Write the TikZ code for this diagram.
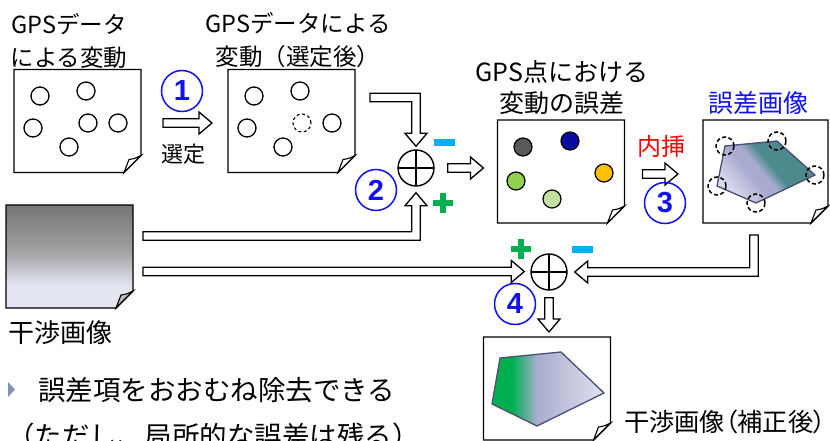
\documentclass[tikz,border=0pt]{standalone}
\usepackage{fontspec}
\setmainfont{Noto Sans CJK JP}
\newfontfamily\jpp[RawFeature=+palt]{Noto Sans CJK JP}
\newfontfamily\numfont{Liberation Sans}
\usetikzlibrary{calc}

\definecolor{cblue}{HTML}{1010F0}
\definecolor{mcyan}{HTML}{00B0F0}
\definecolor{pgreen}{HTML}{00B050}
\definecolor{dgray}{HTML}{595959}
\definecolor{dblue}{HTML}{0A0AA0}
\definecolor{lgreen}{HTML}{92D050}
\definecolor{orng}{HTML}{FFC000}
\definecolor{pgreenb}{HTML}{C4E0A0}
\definecolor{pent}{HTML}{4A4E70}
\definecolor{igA}{HTML}{767676}
\definecolor{igB}{HTML}{A0A0A2}
\definecolor{igC}{HTML}{E3E5F0}
\definecolor{erA}{HTML}{DCDCEE}
\definecolor{erB}{HTML}{A8ABCF}
\definecolor{erC}{HTML}{4C8A8E}
\definecolor{coA}{HTML}{00B050}
\definecolor{coB}{HTML}{A9ADCE}
\definecolor{coC}{HTML}{E0E1EE}
\definecolor{bulletc}{HTML}{8294B4}

\pgfdeclareverticalshading{igram}{100bp}{color(0bp)=(igC); color(36bp)=(igC); color(53bp)=(igB); color(75bp)=(igA); color(100bp)=(igA)}
\pgfdeclarehorizontalshading{corrsh}{100bp}{color(0bp)=(coA); color(34bp)=(coA); color(45bp)=(coB); color(75bp)=(coC); color(100bp)=(coC)}
\pgfdeclarehorizontalshading{errsh}{100bp}{color(0bp)=(erA); color(25bp)=(erA); color(42bp)=(erB); color(48bp)=(erB); color(55bp)=(erC); color(100bp)=(erC)}

\def\ah{4.3pt}
\def\aH{11pt}
\def\aL{13pt}

\tikzset{
  pagenode/.style={minimum width=127pt, minimum height=103pt, inner sep=0pt, outer sep=0pt},
  pageline/.style={draw=black, line width=1.4pt, line join=miter},
  harrow/.style={draw=black, fill=white, line width=1.3pt, line join=miter},
  oplus/.style={circle, draw=black, line width=1.4pt, minimum size=36pt, inner sep=0pt,
    path picture={\draw[line width=1.2pt] (path picture bounding box.north) -- (path picture bounding box.south)
      (path picture bounding box.west) -- (path picture bounding box.east);}},
  numc/.style={circle, draw=cblue, line width=1.5pt, minimum size=41pt, inner sep=0pt, text=cblue,
    font=\numfont\bfseries\fontsize{29}{29}\selectfont},
  spot/.style={draw=black, line width=1.3pt},
  dot/.style={draw=black, line width=1.2pt},
  vtx/.style={draw=black, line width=1.5pt, dash pattern=on 4pt off 2.5pt},
  titleA/.style={align=center, font=\fontsize{23.5}{33}\selectfont},
  titleB/.style={align=center, font=\fontsize{25}{31}\selectfont},
}

\newcommand\pagebox[3]{%
  \path[#2] (#1.north west) -- (#1.north east) -- ([yshift=17pt]#1.south east) -- ([xshift=-17pt]#1.south east) -- (#1.south west) -- cycle;
  \draw[pageline] (#1.north west) -- (#1.north east) -- ([yshift=17pt]#1.south east) -- ([xshift=-17pt]#1.south east) -- (#1.south west) -- cycle;
  \draw[pageline, line width=1.1pt, fill=#3] ([xshift=-17pt]#1.south east) .. controls ([xshift=-15pt,yshift=7pt]#1.south east) .. ([xshift=-12pt,yshift=13pt]#1.south east) .. controls ([xshift=-6pt,yshift=14pt]#1.south east) .. ([yshift=17pt]#1.south east) -- cycle;
}
\newcommand\arrR[2]{\draw[harrow] let \p1=(#1), \p2=(#2) in
  ({\x1},{\y1+\ah}) -- ({\x2-\aL},{\y1+\ah}) -- ({\x2-\aL},{\y1+\aH}) -- ({\x2},{\y1}) -- ({\x2-\aL},{\y1-\aH}) -- ({\x2-\aL},{\y1-\ah}) -- ({\x1},{\y1-\ah}) -- cycle;}
\newcommand\arrD[2]{\draw[harrow] let \p1=(#1), \p2=(#2) in
  ({\x1-\ah},{\y1}) -- ({\x1-\ah},{\y2+\aL}) -- ({\x1-\aH},{\y2+\aL}) -- ({\x1},{\y2}) -- ({\x1+\aH},{\y2+\aL}) -- ({\x1+\ah},{\y2+\aL}) -- ({\x1+\ah},{\y1}) -- cycle;}
\newcommand\arrRD[2]{\draw[harrow] let \p1=(#1), \p2=(#2) in
  ({\x1},{\y1+\ah}) -- ({\x2+\ah},{\y1+\ah}) -- ({\x2+\ah},{\y2+\aL}) -- ({\x2+\aH},{\y2+\aL}) -- ({\x2},{\y2}) -- ({\x2-\aH},{\y2+\aL}) -- ({\x2-\ah},{\y2+\aL}) -- ({\x2-\ah},{\y1-\ah}) -- ({\x1},{\y1-\ah}) -- cycle;}
\newcommand\arrRU[2]{\draw[harrow] let \p1=(#1), \p2=(#2) in
  ({\x1},{\y1-\ah}) -- ({\x2+\ah},{\y1-\ah}) -- ({\x2+\ah},{\y2-\aL}) -- ({\x2+\aH},{\y2-\aL}) -- ({\x2},{\y2}) -- ({\x2-\aH},{\y2-\aL}) -- ({\x2-\ah},{\y2-\aL}) -- ({\x2-\ah},{\y1+\ah}) -- ({\x1},{\y1+\ah}) -- cycle;}
\newcommand\arrDL[2]{\draw[harrow] let \p1=(#1), \p2=(#2) in
  ({\x1-\ah},{\y1}) -- ({\x1-\ah},{\y2+\ah}) -- ({\x2+\aL},{\y2+\ah}) -- ({\x2+\aL},{\y2+\aH}) -- ({\x2},{\y2}) -- ({\x2+\aL},{\y2-\aH}) -- ({\x2+\aL},{\y2-\ah}) -- ({\x1+\ah},{\y2-\ah}) -- ({\x1+\ah},{\y1}) -- cycle;}

\begin{document}
\begin{tikzpicture}[x=1pt, y=1pt]
\useasboundingbox[fill=white] (0,0) rectangle (830,-441);

% page nodes
\node[pagenode] (b1) at (77.5,-121) {};
\node[pagenode] (b2) at (291.5,-121) {};
\node[pagenode] (b3) at (561,-171.5) {};
\node[pagenode, minimum width=125pt] (b4) at (765.5,-171.5) {};
\node[pagenode] (ig) at (69.5,-256.5) {};
\node[pagenode] (b5) at (547,-388.5) {};

\pagebox{b1}{fill=white}{white}
\pagebox{b2}{fill=white}{white}
\pagebox{b3}{fill=white}{white}
\pagebox{b4}{fill=white}{white}
\pagebox{ig}{shade, shading=igram}{igB!70!white}
\pagebox{b5}{fill=white}{white}

% box 1 circles
\foreach \p in {(40,-96),(86,-91),(33,-128),(88,-123),(118,-123),(69,-147)}
  \draw[spot] \p circle (9);
% box 2 circles
\foreach \p in {(254,-96),(300,-91),(247,-128),(332,-123),(283,-147)}
  \draw[spot] \p circle (9);
\draw[spot, line width=1.1pt, dash pattern=on 3pt off 2.5pt] (302,-123) circle (9);

% box 3 dots
\draw[dot, fill=dgray] (523,-147) circle (9);
\draw[dot, fill=dblue] (570,-141) circle (9);
\draw[dot, fill=lgreen] (516,-181) circle (9);
\draw[dot, fill=orng] (604,-173) circle (9);
\draw[dot, fill=pgreenb] (552,-199) circle (9);

% box 4 error image
\draw[draw=pent, line width=1.3pt, shade, shading=errsh, shading angle=40]
  (725,-146) -- (777,-141) -- (815,-175) -- (756,-203) -- (717,-186) -- cycle;
\foreach \p in {(725,-146),(777,-141),(815,-175),(756,-203),(717,-186)}
  \draw[vtx] \p circle (9);

% box 5 corrected image
\draw[draw=pent, line width=1.3pt, shade, shading=corrsh]
  (500,-358) -- (561,-352) -- (604,-393) -- (537,-426) -- (492,-404) -- cycle;

% summing junctions
\node[oplus] (s1) at (416,-168) {};
\node[oplus] (s2) at (549,-272) {};

% hollow arrows
\arrR{[xshift=22pt,yshift=-2pt]b1.east}{[xshift=-16pt,yshift=-2pt]b2.west}
\arrRD{[xshift=15pt,yshift=23.5pt]b2.east}{[yshift=3pt]s1.north}
\arrRU{[xshift=10pt,yshift=20.5pt]ig.east}{[yshift=-6pt]s1.south}
\arrR{[xshift=13pt]s1.east}{[xshift=-14pt,yshift=3.5pt]b3.west}
\arrR{[xshift=18pt,yshift=-2.5pt]b3.east}{[xshift=-25pt,yshift=-2.5pt]b4.west}
\arrR{[xshift=10pt,yshift=-15pt]ig.east}{[xshift=-6pt]s2.west}
\arrDL{[xshift=-11.5pt,yshift=-12pt]b4.south}{[xshift=7pt]s2.east}
\arrD{[yshift=-7pt]s2.south}{[xshift=2pt,yshift=5pt]b5.north}

% signs
\fill[mcyan] (433.5,-139.5) rectangle (454.5,-146.5);
\fill[pgreen] (433,-200) rectangle (453,-206);
\fill[pgreen] (440,-193) rectangle (446,-213);
\fill[pgreen] (511,-246) rectangle (531,-252);
\fill[pgreen] (518,-239) rectangle (524,-259);
\fill[mcyan] (571.5,-245.5) rectangle (592.5,-252.5);

% circled numbers
\node[numc] (n1) at (182,-91) {1};
\node[numc] (n2) at (376,-190) {2};
\node[numc] (n3) at (665,-203) {3};
\node[numc] (n4) at (515,-304) {4};

% texts
\node[titleA] (t1) at (69,-40.5) {GPSデータ\\による変動};
\node[titleA] (t2) at (298,-40.5) {GPSデータによる\\変動（選定後）};
\node[titleB] (t3) at (562,-87.5) {GPS点における\\変動の誤差};
\node[font=\fontsize{25}{31}\selectfont, text=cblue] (t4) at (758,-103) {誤差画像};
\node[font=\fontsize{26}{30}\selectfont] (t5) at (60.5,-333) {干渉画像};
\node[font=\jpp\fontsize{25.2}{30}\selectfont, anchor=west, inner sep=0pt] (t6) at (624,-422) {干渉画像（補正後）};
\node[font=\fontsize{22}{26}\selectfont] (t7) at (183,-154) {選定};
\node[font=\fontsize{24}{28}\selectfont, text=red] (t8) at (661,-146) {内挿};
\fill[bulletc] (8,-382) -- (15,-389.5) -- (8,-397) -- cycle;
\node[font=\fontsize{27.5}{32}\selectfont, anchor=west, inner sep=0pt] (t9) at (38,-390) {誤差項をおおむね除去できる};
\node[font=\fontsize{27.5}{32}\selectfont, anchor=west, inner sep=0pt] (t10) at (7,-436) {（ただし、局所的な誤差は残る）};
\end{tikzpicture}
\end{document}
